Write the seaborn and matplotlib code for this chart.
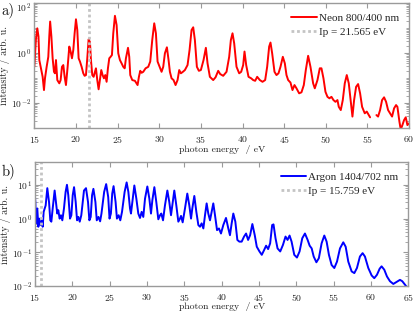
import numpy as np
import pandas as pd
import matplotlib
matplotlib.use("Agg")
import matplotlib.pyplot as plt
import matplotlib.ticker as mticker
import matplotlib.transforms as mtrans
import seaborn as sns

# ---------------- data ----------------
# Neon spectrum, first segment (15 - 55.3 eV), log10 of intensity
neon_energy_1 = [15.0, 15.05, 15.2, 15.36, 15.5, 15.6, 15.76, 16.0, 16.16, 16.28, 16.48, 16.68, 16.8, 16.9,
                 17.05, 17.2, 17.36, 17.48, 17.6, 17.76, 18.0, 18.16, 18.32, 18.48, 18.64, 18.8, 19.0, 19.2,
                 19.36, 19.52, 19.68, 19.84, 20.0, 20.16, 20.32, 20.48, 20.68, 20.88, 21.04, 21.2, 21.36,
                 21.52, 21.68, 21.8, 21.96, 22.12, 22.28, 22.4, 22.56, 22.72, 22.88, 23.04, 23.2, 23.36,
                 23.52, 23.68, 23.84, 24.0, 24.16, 24.32, 24.48, 24.68, 24.88, 25.08, 25.28, 25.48, 25.68,
                 25.85, 26.0, 26.25, 26.4, 26.52, 26.76, 27.08, 27.4, 27.56, 27.72, 27.88, 28.08, 28.36,
                 28.68, 28.92, 29.16, 29.4, 29.6, 29.8, 30.04, 30.28, 30.48, 30.68, 30.92, 31.12, 31.28,
                 31.48, 31.72, 31.96, 32.2, 32.4, 32.6, 32.84, 33.08, 33.4, 33.64, 33.88, 34.08, 34.28,
                 34.52, 34.76, 35.0, 35.32, 35.6, 35.8, 36.08, 36.48, 36.76, 37.08, 37.32, 37.68, 38.08,
                 38.4, 38.6, 38.8, 39.0, 39.28, 39.6, 39.84, 40.08, 40.24, 40.44, 40.72, 41.04, 41.28,
                 41.52, 41.76, 42.08, 42.4, 42.72, 42.96, 43.2, 43.36, 43.56, 43.84, 44.08, 44.32, 44.56,
                 44.84, 45.08, 45.28, 45.48, 45.76, 46.0, 46.24, 46.48, 46.8, 47.08, 47.36, 47.6, 47.88,
                 48.16, 48.48, 48.68, 49.0, 49.28, 49.48, 49.72, 49.96, 50.2, 50.44, 50.68, 50.92, 51.16,
                 51.4, 51.56, 51.8, 52.04, 52.28, 52.52, 52.76, 53.0, 53.2, 53.4, 53.64, 53.88, 54.12,
                 54.36, 54.68, 54.92, 55.16, 55.32]
neon_log_intensity_1 = [-0.54, -0.27, 0.6, 1.0, 0.67, -0.27, -0.54, -0.94, -1.47, -1.0, -0.54, -0.14, 0.7, 1.27,
                        0.67, -0.2, -0.74, -0.8, -0.27, -1.07, -1.2, -1.07, -0.54, -0.47, -0.94, -1.27, -0.54, 0.27,
                        0.07, -0.2, 0.13, 0.8, 1.36, 0.93, -0.2, -0.33, -0.54, -0.8, -0.9, -0.87, -0.2,
                        0.56, 0.45, -0.27, -0.87, -0.94, -0.74, -0.6, -1.07, -1.44, -1.07, -0.67, -0.87, -1.0,
                        -0.87, -1.14, -0.6, -0.2, -0.14, -0.07, 0.8, 1.5, 1.13, 0.0, -0.27, -0.4, -0.54,
                        -0.6, -0.2, 0.22, -0.14, -0.87, -1.07, -1.1, -1.27, -0.94, -0.7, -0.78, -0.74, -0.6,
                        -0.54, -0.33, 0.53, 1.2, 0.8, -0.33, -0.54, -0.74, -0.54, 0.0, 0.24, -0.27, -0.74,
                        -1.0, -1.07, -1.27, -1.07, -0.67, -0.8, -0.74, -0.67, -0.47, 0.13, 0.93, 1.04, 0.53,
                        -0.54, -0.7, -0.67, -0.27, 0.22, -0.4, -0.94, -1.07, -0.96, -0.7, -0.83, -0.9, -0.74,
                        -0.14, 0.53, 0.8, 0.4, -0.54, -0.8, -0.74, -0.47, 0.07, -0.47, -0.94, -1.0, -1.07,
                        -1.1, -0.94, -1.07, -1.14, -1.07, -0.54, 0.27, 0.43, 0.0, -0.74, -0.87, -0.8, -0.54,
                        -0.14, -0.4, -0.87, -1.07, -1.17, -1.47, -1.27, -1.4, -1.6, -1.56, -1.27, -0.67, -0.1,
                        -0.54, -1.2, -1.4, -1.07, -0.6, -0.6, -1.0, -1.54, -1.74, -1.8, -1.74, -1.87, -1.94,
                        -1.87, -2.14, -2.27, -1.87, -1.2, -0.87, -1.2, -1.94, -2.53, -1.87, -1.34, -1.23, -1.6,
                        -2.14, -2.4, -2.33, -2.47, -2.56]
# Neon spectrum, second segment (after the gap, 56 - 60 eV)
neon_energy_2 = [56.08, 56.28, 56.52, 56.76, 57.0, 57.24, 57.48, 57.72, 57.96, 58.2, 58.44, 58.6, 58.84,
                 59.0, 59.2, 59.4, 59.6, 59.8, 60.0]
neon_log_intensity_2 = [-2.47, -2.53, -2.27, -1.87, -1.76, -1.94, -2.27, -2.4, -2.53, -2.2, -2.07, -2.14, -2.73,
                        -3.05, -2.87, -2.67, -2.56, -2.87, -2.8]

# Argon spectrum, log10 of intensity
argon_energy = [15.0, 15.05, 15.13, 15.31, 15.45, 15.58, 15.76, 15.94, 16.03, 16.16, 16.3, 16.43, 16.65, 16.88,
                17.05, 17.19, 17.37, 17.63, 17.8, 17.98, 18.12, 18.3, 18.48, 18.66, 18.88, 19.1, 19.28,
                19.46, 19.69, 19.87, 20.05, 20.23, 20.45, 20.63, 20.81, 20.99, 21.2, 21.56, 21.83, 22.1,
                22.28, 22.46, 22.64, 22.82, 23.09, 23.27, 23.5, 23.72, 23.9, 24.26, 24.53, 24.8, 24.98,
                25.16, 25.34, 25.52, 25.79, 25.97, 26.2, 26.42, 26.65, 27.0, 27.27, 27.5, 27.72, 27.85,
                28.03, 28.3, 28.57, 28.83, 29.06, 29.28, 29.5, 29.73, 30.04, 30.31, 30.53, 30.71, 30.98,
                31.24, 31.51, 31.74, 31.91, 32.14, 32.4, 32.72, 32.98, 33.21, 33.39, 33.65, 33.92, 34.19,
                34.41, 34.55, 34.77, 35.08, 35.39, 35.66, 35.89, 36.06, 36.33, 36.6, 36.87, 37.09, 37.31,
                37.54, 37.76, 37.98, 38.2, 38.43, 38.65, 38.87, 39.1, 39.37, 39.63, 39.9, 40.21, 40.57,
                40.88, 41.1, 41.33, 41.55, 41.82, 42.09, 42.36, 42.67, 42.99, 43.26, 43.53, 43.8, 44.1,
                44.42, 44.69, 45.05, 45.36, 45.67, 45.94, 46.21, 46.48, 46.75, 46.93, 47.2, 47.47, 47.83,
                48.19, 48.54, 48.81, 49.08, 49.35, 49.71, 50.07, 50.42, 50.78, 51.14, 51.5, 51.77, 52.04,
                52.31, 52.67, 53.0, 53.37, 53.73, 54.04, 54.35, 54.71, 55.07, 55.43, 55.83, 56.27, 56.59,
                56.94, 57.39, 57.75, 58.1, 58.5, 58.86, 59.17, 59.62, 60.07, 60.42, 60.78, 61.14, 61.4,
                61.76, 62.12, 62.52, 62.97, 63.41, 63.86, 64.17, 64.53, 64.7]
argon_log_intensity = [0.64, 0.49, -0.14, 0.3, -0.24, 0.0, -0.19, -0.05, -0.24, 0.2, 0.3, 0.39, 0.9, 0.49,
                       -0.05, -0.09, 0.3, 0.83, 0.49, 0.15, 0.25, 0.0, 0.1, -0.05, 0.3, 0.79, 1.0,
                       0.69, 0.0, 0.1, 0.69, 0.93, 0.49, -0.05, 0.05, -0.09, 0.1, 0.83, 0.9, 0.49,
                       -0.05, 0.05, 0.69, 0.88, 0.49, -0.05, 0.05, -0.08, 0.15, 0.79, 1.02, 0.64, 0.0,
                       0.15, 0.74, 0.96, 0.49, 0.0, 0.1, -0.05, 0.2, 0.79, 1.07, 0.79, 0.3, 0.15,
                       0.49, 0.98, 0.59, 0.15, 0.02, 0.2, 0.05, 0.59, 0.95, 0.59, 0.15, 0.54, 0.93,
                       0.49, -0.02, 0.1, 0.15, -0.05, 0.39, 0.83, 0.49, 0.1, 0.39, 0.83, 0.39, -0.09,
                       0.0, 0.08, -0.11, 0.3, 0.74, 0.39, 0.0, 0.3, 0.67, 0.2, -0.19, -0.24, -0.14,
                       -0.29, 0.1, 0.45, 0.15, -0.05, 0.2, 0.45, 0.1, -0.34, -0.29, -0.44, -0.19, 0.02,
                       -0.29, -0.49, -0.14, 0.15, -0.09, -0.63, -0.68, -0.68, -0.53, -0.44, -0.63, -0.49, -0.16,
                       -0.49, -0.83, -0.97, -1.07, -0.93, -0.8, -0.9, -0.73, -0.19, -0.17, -0.58, -0.88, -0.97,
                       -0.78, -0.53, -0.63, -0.5, -0.68, -1.07, -1.15, -0.97, -0.58, -0.44, -0.63, -0.8, -0.88,
                       -1.12, -1.29, -1.17, -0.73, -0.5, -0.68, -1.07, -1.37, -1.46, -1.27, -0.88, -0.7, -0.83,
                       -1.27, -1.56, -1.61, -1.46, -1.12, -1.02, -1.12, -1.46, -1.68, -1.76, -1.66, -1.48, -1.41,
                       -1.51, -1.71, -1.85, -1.93, -1.87, -1.81, -1.85, -1.95, -2.0]

neon_ip = 21.565
argon_ip = 15.759
neon_label = "Neon 800/400 nm"
argon_label = "Argon 1404/702 nm"
neon_ip_label = "Ip = 21.565 eV"
argon_ip_label = "Ip = 15.759 eV"
neon_xticks = [15, 20, 25, 30, 35, 40, 45, 50, 55, 60]
argon_xticks = [15, 20, 25, 30, 35, 40, 45, 50, 55, 60, 65]
neon_yticks = [1e-2, 1e0, 1e2]
argon_yticks = [1e-2, 1e-1, 1e0, 1e1]
xlabel = "photon energy  / eV"
ylabel = "intensity / arb. u."

# ---------------- style ----------------
sns.set_theme(style="ticks")
plt.rcParams.update({
    "font.family": ["cmr10", "DejaVu Serif"],
    "mathtext.fontset": "cm",
    "axes.formatter.use_mathtext": True,
    "axes.edgecolor": "#9a9a9a",
    "axes.linewidth": 1.0,
    "xtick.color": "#9a9a9a",
    "ytick.color": "#9a9a9a",
    "xtick.labelcolor": "#222222",
    "ytick.labelcolor": "#222222",
    "xtick.direction": "in",
    "ytick.direction": "in",
    "xtick.top": True,
    "ytick.right": True,
    "axes.unicode_minus": False,
})

fig = plt.figure(figsize=(4.15, 3.13), dpi=100)
ax1 = fig.add_axes([0.0827, 0.590, 0.903, 0.3995])
ax2 = fig.add_axes([0.0843, 0.0853, 0.900, 0.3960])

neon_df1 = pd.DataFrame({"energy": neon_energy_1, "intensity": 10.0 ** np.array(neon_log_intensity_1)})
neon_df2 = pd.DataFrame({"energy": neon_energy_2, "intensity": 10.0 ** np.array(neon_log_intensity_2)})
argon_df = pd.DataFrame({"energy": argon_energy, "intensity": 10.0 ** np.array(argon_log_intensity)})

sns.lineplot(data=neon_df1, x="energy", y="intensity", ax=ax1, color="#ff0000", lw=1.4,
             estimator=None, sort=False, label=neon_label)
sns.lineplot(data=neon_df2, x="energy", y="intensity", ax=ax1, color="#ff0000", lw=1.4,
             estimator=None, sort=False)
ax1.axvline(neon_ip, color="#c4c4c4", lw=2.0, ls=(0, (1, 1)), label=neon_ip_label)

sns.lineplot(data=argon_df, x="energy", y="intensity", ax=ax2, color="#0000ff", lw=1.4,
             estimator=None, sort=False, label=argon_label)
ax2.axvline(argon_ip, color="#c4c4c4", lw=2.0, ls=(0, (1, 1)), label=argon_ip_label)

for ax, xt, yt, xl, yl, xly, xpad in [(ax1, neon_xticks, neon_yticks, (15, 60), (1e-3, 1e2), -0.13, 4.0),
                                      (ax2, argon_xticks, argon_yticks, (15, 65), (1e-2, 46), -0.128, 4.0)]:
    ax.set_yscale("log")
    ax.set_xlim(*xl)
    ax.set_ylim(*yl)
    ax.set_xticks(xt)
    ax.yaxis.set_major_locator(mticker.FixedLocator(yt))
    ax.yaxis.set_major_formatter(mticker.LogFormatterSciNotation())
    ax.yaxis.set_minor_locator(mticker.LogLocator(base=10, subs=np.arange(1, 10), numticks=100))
    ax.yaxis.set_minor_formatter(mticker.NullFormatter())
    ax.tick_params(axis="both", which="major", length=3.5, width=0.8, labelsize=7)
    ax.tick_params(axis="x", which="major", pad=xpad)
    ax.tick_params(axis="y", which="major", pad=2.3, labelsize=6.9)
    ax.tick_params(axis="both", which="minor", length=2, width=0.6)
    ax.set_xlabel(xlabel, fontsize=7, color="#222222", va="top")
    ax.xaxis.set_label_coords(0.5, xly)
    ax.set_ylabel(ylabel, fontsize=7.2, color="#222222")
    ax.yaxis.set_label_coords(-0.064, 0.5)
    for s in ax.spines.values():
        s.set_visible(True)
    ax.legend(loc="upper right", frameon=False,
              prop={"family": "Liberation Serif", "size": 8},
              handlelength=2.3, handletextpad=0.2, labelspacing=0.35,
              borderaxespad=0.5)

# keep the top tick label of panel a) inside the figure
fig.canvas.draw()
top_tick = ax1.yaxis.get_major_ticks()[-1].label1
top_tick.set_transform(top_tick.get_transform() +
                       mtrans.ScaledTranslation(0, -2.5 / 72, fig.dpi_scale_trans))

fig.text(0.004, 0.992, "a)", fontsize=10.5, ha="left", va="top", color="#111111")
fig.text(0.004, 0.478, "b)", fontsize=10.5, ha="left", va="top", color="#111111")

fig.savefig("out.png", dpi=100)
